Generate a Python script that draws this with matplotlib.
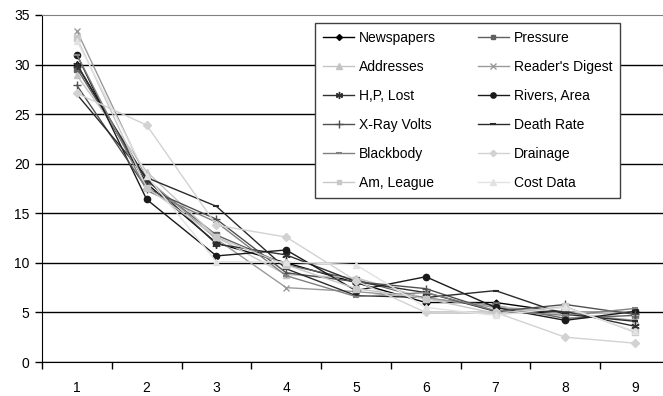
import matplotlib
matplotlib.use("Agg")
import matplotlib.pyplot as plt

plt.rcParams['font.family'] = ['Liberation Sans', 'DejaVu Sans']

digits = [1, 2, 3, 4, 5, 6, 7, 8, 9]
newspapers = [30.0, 18.0, 12.0, 10.0, 8.0, 6.0, 6.0, 5.0, 5.0]
pressure = [29.6, 18.3, 12.8, 9.8, 8.3, 6.4, 5.7, 4.4, 4.7]
addresses = [28.9, 19.2, 12.6, 8.8, 8.5, 6.4, 5.6, 5.0, 5.0]
readers_digest = [33.4, 18.5, 12.4, 7.5, 7.1, 6.5, 5.5, 4.9, 4.2]
hp_lost = [30.0, 18.4, 11.9, 10.8, 8.1, 7.0, 5.1, 5.1, 3.6]
rivers_area = [31.0, 16.4, 10.7, 11.3, 7.2, 8.6, 5.5, 4.2, 5.1]
xray_volts = [27.9, 17.5, 14.4, 9.0, 8.1, 7.4, 5.1, 5.8, 4.8]
death_rate = [27.0, 18.6, 15.7, 9.4, 6.7, 6.5, 7.2, 4.8, 4.1]
blackbody = [31.0, 17.3, 14.1, 8.7, 6.6, 7.0, 5.2, 4.7, 5.4]
drainage = [27.1, 23.9, 13.8, 12.6, 8.2, 5.0, 5.0, 2.5, 1.9]
am_league = [32.7, 17.6, 12.6, 9.8, 7.4, 6.4, 4.9, 5.6, 3.0]
cost_data = [32.4, 18.8, 10.1, 10.1, 9.8, 5.5, 4.7, 5.5, 3.1]

series = [
    ("Newspapers", newspapers, "#000000", "D", 3.5, 1.0),
    ("Pressure", pressure, "#606060", "s", 4, 1.0),
    ("Addresses", addresses, "#c4c4c4", "^", 4.5, 1.0),
    ("Reader's Digest", readers_digest, "#9a9a9a", "x", 5, 1.0),
    ("H,P, Lost", hp_lost, "#303030", (6, 2, 0), 6, 1.0),
    ("Rivers, Area", rivers_area, "#1a1a1a", "o", 4.5, 1.0),
    ("X-Ray Volts", xray_volts, "#505050", "+", 6, 1.0),
    ("Death Rate", death_rate, "#2a2a2a", "_", 5, 1.5),
    ("Blackbody", blackbody, "#808080", "_", 5, 1.5),
    ("Drainage", drainage, "#d2d2d2", "D", 3.8, 1.0),
    ("Am, League", am_league, "#c8c8c8", "s", 4.2, 1.0),
    ("Cost Data", cost_data, "#e2e2e2", "^", 4.5, 1.0),
]

fig = plt.figure(figsize=(6.63, 3.96), dpi=100)
W, H = 663, 396
left, right, top, bottom = 42, 670, 15, 362
ax = fig.add_axes([left / W, 1 - bottom / H, (right - left) / W, (bottom - top) / H])

handles = []
for name, vals, col, mk, ms, mew in series:
    ln, = ax.plot(digits, vals, color=col, lw=1.0, marker=mk, markersize=ms,
                  markeredgewidth=mew, markerfacecolor=col, markeredgecolor=col,
                  label=name, clip_on=False)
    handles.append(ln)

ax.set_xlim(0.5, 9.5)
ax.set_ylim(0, 35)
ax.set_yticks(range(0, 36, 5))
ax.set_xticks(digits)
ax.set_xticks([d + 0.5 for d in digits[:-1]] + [0.5], minor=True)
ax.tick_params(axis='x', which='major', length=0, pad=14, labelsize=10)
ax.tick_params(axis='x', which='minor', length=5, width=1, direction='out', color='#000000')
ax.tick_params(axis='y', length=5, width=1, direction='out', labelsize=10, pad=4)
ax.grid(axis='y', color='#000000', lw=1.0)
ax.set_axisbelow(True)
ax.spines['top'].set_color('#808080')
ax.spines['right'].set_visible(False)
ax.spines['left'].set_color('#000000')
ax.spines['bottom'].set_color('#000000')
ax.get_ygridlines()[-1].set_visible(False)

# reorder for row-wise legend fill with 2 columns
order = list(range(0, 12, 2)) + list(range(1, 12, 2))
leg = fig.legend([handles[i] for i in order], [series[i][0] for i in order],
                 ncol=2, loc='upper left', bbox_to_anchor=(315 / W, 1 - 23 / H),
                 frameon=True, fancybox=False, edgecolor='#404040', framealpha=1,
                 fontsize=10, handlelength=2.2, handletextpad=0.35, markerscale=0.85,
                 labelspacing=1.07, columnspacing=3.05, borderpad=0.6, borderaxespad=0)
leg.get_frame().set_linewidth(1.0)

fig.savefig("out.png", dpi=100)
